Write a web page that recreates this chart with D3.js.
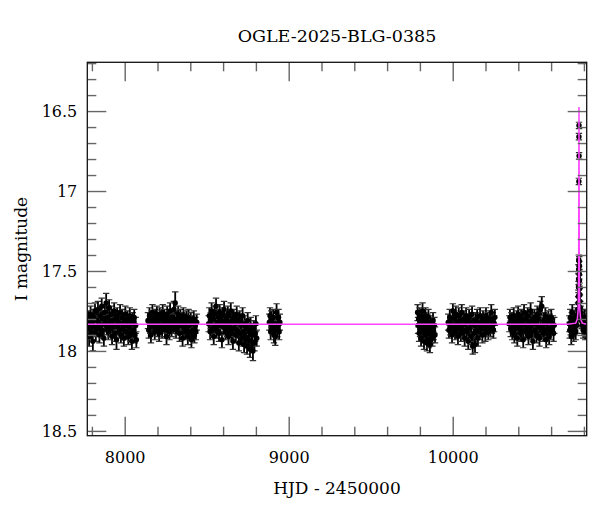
<!DOCTYPE html>
<html>
<head>
<meta charset="utf-8">
<script src="https://cdn.jsdelivr.net/npm/d3@7"></script>
<style>
  body { margin: 0; background: #fff; }
  svg text { font-family: "DejaVu Serif", serif; fill: #000; }
</style>
</head>
<body>
<div id="chart-area"></div>
<script>
// labels
var title = "OGLE-2025-BLG-0385";
var xTitle = "HJD - 2450000";
var yTitle = "I magnitude";

// ticks
var xMajor = [8000, 9000, 10000];
var xMinor = [7800, 8200, 8400, 8600, 8800, 9200, 9400, 9600, 9800, 10200, 10400, 10600, 10800];
var yMajor = [16.5, 17, 17.5, 18, 18.5];
var yMinor = [16.2, 16.3, 16.4, 16.6, 16.7, 16.8, 16.9, 17.1, 17.2, 17.3, 17.4,
              17.6, 17.7, 17.8, 17.9, 18.1, 18.2, 18.3, 18.4];

// photometry [HJD-2450000, I mag, error], one array per season
var season2017 = [[7775,17.86,.05],[7779,17.80,.05],[7783,17.91,.06],[7788,17.83,.05],[7792,17.77,.05],[7797,17.88,.05],[7801,17.82,.05],[7806,17.94,.06],[7810,17.79,.05],[7815,17.85,.05],[7819,17.75,.05],[7824,17.89,.05],[7828,17.81,.05],[7833,17.86,.05],[7837,17.74,.05],[7842,17.83,.05],[7846,17.90,.05],[7851,17.78,.05],[7855,17.84,.05],[7860,17.72,.05],[7864,17.87,.05],[7869,17.80,.05],[7873,17.92,.05],[7878,17.76,.05],[7882,17.83,.05],[7887,17.70,.06],[7891,17.85,.05],[7896,17.79,.05],[7900,17.88,.05],[7905,17.73,.05],[7909,17.82,.05],[7914,17.86,.05],[7918,17.77,.05],[7923,17.91,.05],[7927,17.81,.05],[7932,17.84,.05],[7936,17.75,.05],[7941,17.89,.05],[7945,17.80,.05],[7950,17.93,.06],[7954,17.78,.05],[7959,17.85,.05],[7963,17.82,.05],[7968,17.87,.05],[7972,17.76,.05],[7977,17.90,.05],[7981,17.83,.05],[7986,17.79,.05],[7990,17.86,.05],[7995,17.92,.05],[7999,17.81,.05],[8004,17.77,.05],[8008,17.88,.05],[8013,17.84,.05],[8017,17.80,.05],[8022,17.91,.05],[8026,17.85,.05],[8031,17.78,.05],[8035,17.89,.05],[8040,17.83,.05],[8044,17.94,.05],[8049,17.81,.05],[8053,17.87,.05],[8058,17.79,.05],[8062,17.90,.05],[8067,17.84,.05],[8071,17.93,.05]];
var season2018 = [[8142,17.81,.05],[8147,17.87,.05],[8151,17.78,.05],[8156,17.84,.05],[8160,17.90,.05],[8165,17.80,.05],[8169,17.76,.05],[8174,17.85,.05],[8178,17.82,.05],[8183,17.88,.05],[8187,17.79,.05],[8192,17.83,.05],[8196,17.77,.05],[8201,17.86,.05],[8205,17.81,.05],[8210,17.89,.05],[8214,17.78,.05],[8219,17.84,.05],[8223,17.80,.05],[8228,17.87,.05],[8232,17.76,.05],[8237,17.83,.05],[8241,17.79,.05],[8246,17.86,.05],[8250,17.81,.05],[8255,17.91,.05],[8259,17.77,.05],[8264,17.84,.05],[8268,17.80,.05],[8273,17.88,.05],[8277,17.75,.05],[8282,17.82,.05],[8286,17.86,.05],[8291,17.79,.05],[8295,17.84,.05],[8300,17.74,.05],[8304,17.81,.05],[8308,17.70,.07],[8313,17.87,.05],[8317,17.80,.05],[8322,17.85,.05],[8326,17.77,.05],[8331,17.83,.05],[8335,17.89,.05],[8340,17.79,.05],[8344,17.84,.05],[8349,17.81,.05],[8353,17.92,.05],[8358,17.78,.05],[8362,17.86,.05],[8367,17.82,.05],[8371,17.88,.05],[8376,17.80,.05],[8380,17.85,.05],[8385,17.91,.05],[8389,17.79,.05],[8394,17.84,.05],[8398,17.88,.05],[8403,17.81,.05],[8407,17.93,.05],[8412,17.83,.05],[8416,17.87,.05],[8421,17.80,.05],[8425,17.90,.05],[8430,17.84,.05],[8434,17.88,.05],[8439,17.82,.05]];
var season2019 = [[8512,17.83,.05],[8516,17.78,.05],[8521,17.88,.05],[8525,17.81,.05],[8530,17.75,.05],[8534,17.86,.05],[8539,17.80,.05],[8543,17.91,.05],[8548,17.77,.05],[8552,17.84,.05],[8557,17.72,.05],[8561,17.87,.05],[8566,17.82,.05],[8570,17.79,.05],[8575,17.89,.05],[8579,17.76,.05],[8584,17.84,.05],[8588,17.81,.05],[8593,17.93,.05],[8597,17.78,.05],[8602,17.85,.05],[8606,17.74,.05],[8611,17.83,.05],[8615,17.88,.05],[8620,17.80,.05],[8624,17.86,.05],[8629,17.77,.05],[8633,17.91,.05],[8638,17.82,.05],[8642,17.85,.05],[8647,17.75,.05],[8651,17.88,.05],[8656,17.81,.05],[8660,17.94,.05],[8665,17.79,.05],[8669,17.86,.05],[8674,17.83,.05],[8678,17.90,.05],[8683,17.77,.05],[8687,17.87,.05],[8692,17.82,.05],[8696,17.95,.05],[8701,17.80,.05],[8705,17.89,.05],[8710,17.84,.05],[8714,17.92,.05],[8719,17.78,.05],[8723,17.88,.05],[8728,17.96,.05],[8732,17.83,.05],[8737,17.91,.05],[8741,17.86,.05],[8746,17.97,.05],[8750,17.81,.05],[8755,17.93,.05],[8759,17.88,.05],[8764,17.99,.05],[8768,17.84,.05],[8773,17.94,.05],[8777,17.90,.05],[8782,18.00,.06],[8786,17.86,.05],[8791,17.95,.05],[8795,17.89,.05],[8800,17.83,.05],[8805,17.92,.05]];
var season2020 = [[8882,17.82,.05],[8886,17.78,.05],[8890,17.88,.05],[8894,17.80,.05],[8898,17.84,.05],[8902,17.85,.05],[8906,17.79,.05],[8910,17.90,.05],[8914,17.83,.05],[8918,17.91,.055],[8922,17.87,.05],[8926,17.76,.055],[8930,17.86,.05],[8934,17.84,.05],[8938,17.79,.05],[8942,17.88,.05],[8946,17.82,.05]];
var season2022 = [[9786,17.76,.05],[9789,17.84,.05],[9792,17.80,.05],[9795,17.89,.05],[9798,17.78,.05],[9801,17.86,.05],[9804,17.82,.05],[9807,17.92,.05],[9810,17.79,.05],[9813,17.85,.05],[9816,17.75,.05],[9819,17.88,.05],[9822,17.83,.05],[9825,17.94,.05],[9828,17.81,.05],[9831,17.87,.05],[9834,17.78,.05],[9837,17.90,.05],[9840,17.84,.05],[9843,17.95,.05],[9846,17.82,.05],[9849,17.88,.05],[9852,17.79,.05],[9855,17.93,.05],[9858,17.86,.05],[9861,17.96,.05],[9864,17.83,.05],[9868,17.90,.05],[9872,17.85,.05],[9876,17.92,.05],[9880,17.81,.05],[9884,17.88,.05],[9888,17.84,.05],[9892,17.90,.05]];
var season2023 = [[9973,17.82,.05],[9977,17.87,.05],[9982,17.79,.05],[9986,17.85,.05],[9991,17.83,.05],[9996,17.90,.05],[10001,17.75,.045],[10005,17.84,.05],[10010,17.80,.05],[10014,17.88,.05],[10019,17.77,.05],[10023,17.86,.05],[10028,17.82,.05],[10032,17.91,.05],[10037,17.78,.05],[10041,17.85,.05],[10046,17.81,.05],[10050,17.89,.05],[10055,17.76,.05],[10059,17.84,.05],[10064,17.87,.05],[10068,17.80,.05],[10073,17.92,.05],[10077,17.83,.05],[10082,17.78,.05],[10086,17.88,.05],[10091,17.82,.05],[10095,17.94,.05],[10100,17.79,.05],[10104,17.86,.05],[10109,17.83,.05],[10113,17.91,.05],[10118,17.77,.05],[10122,17.97,.05],[10127,17.84,.05],[10131,17.89,.05],[10136,17.96,.05],[10140,17.81,.05],[10145,17.87,.05],[10149,17.79,.05],[10154,17.92,.05],[10158,17.84,.05],[10163,17.88,.05],[10167,17.78,.05],[10172,17.85,.05],[10176,17.82,.05],[10181,17.90,.05],[10185,17.80,.05],[10190,17.86,.05],[10194,17.83,.05],[10199,17.89,.05],[10203,17.78,.05],[10208,17.85,.05],[10212,17.81,.05],[10217,17.88,.05],[10221,17.83,.05],[10226,17.80,.05],[10230,17.86,.05],[10235,17.76,.05],[10239,17.84,.05],[10244,17.81,.05],[10248,17.87,.05],[10253,17.83,.05],[10257,17.79,.05]];
var season2024 = [[10345,17.83,.05],[10349,17.79,.05],[10354,17.86,.05],[10358,17.81,.05],[10363,17.88,.05],[10367,17.84,.05],[10372,17.78,.05],[10376,17.90,.05],[10381,17.82,.05],[10385,17.86,.05],[10390,17.80,.05],[10394,17.92,.05],[10399,17.77,.05],[10403,17.85,.05],[10408,17.83,.05],[10412,17.89,.05],[10417,17.79,.05],[10421,17.87,.05],[10426,17.81,.05],[10430,17.93,.05],[10435,17.76,.05],[10439,17.84,.05],[10444,17.88,.05],[10448,17.80,.05],[10453,17.86,.05],[10457,17.78,.05],[10462,17.91,.05],[10466,17.82,.05],[10471,17.85,.05],[10475,17.75,.05],[10480,17.88,.05],[10484,17.81,.05],[10489,17.94,.05],[10493,17.83,.05],[10498,17.79,.05],[10502,17.87,.05],[10507,17.82,.05],[10511,17.90,.05],[10516,17.77,.05],[10520,17.85,.05],[10525,17.80,.05],[10529,17.92,.05],[10534,17.74,.05],[10538,17.86,.05],[10543,17.72,.06],[10547,17.84,.05],[10552,17.89,.05],[10556,17.81,.05],[10561,17.87,.05],[10565,17.78,.05],[10570,17.93,.05],[10574,17.83,.05],[10579,17.86,.05],[10583,17.80,.05],[10588,17.91,.05],[10592,17.82,.05],[10597,17.88,.05],[10601,17.79,.05],[10606,17.85,.05],[10610,17.83,.05],[10615,17.89,.05],[10619,17.84,.05]];
var season2025 = [[10711,17.83,.05],[10714,17.87,.05],[10717,17.79,.05],[10720,17.85,.05],[10723,17.91,.05],[10726,17.81,.05],[10729,17.76,.05],[10732,17.86,.05],[10735,17.83,.05],[10738,17.89,.05],[10741,17.80,.05],[10744,17.85,.05],[10747,17.82,.05],[10750,17.88,.05],[10753,17.78,.05],[10756,17.84,.05],[10759,17.80,.05],[10762,17.78,.04],[10764,17.74,.04],[10765,17.70,.04],[10766,17.66,.04],[10767,17.60,.035],[10767.5,17.55,.035],[10768,17.49,.03],[10768.5,17.43,.03],[10769.3,16.94,.02],[10769.7,16.66,.02],[10770.1,16.59,.02],[10770.6,16.78,.02],[10771.5,17.44,.03],[10772,17.47,.03],[10772.5,17.52,.03],[10773,17.56,.035],[10774,17.61,.035],[10775,17.65,.04],[10776,17.69,.04],[10778,17.73,.04],[10780,17.76,.04],[10783,17.79,.05],[10786,17.81,.05],[10790,17.84,.05],[10793,17.80,.05],[10796,17.87,.05],[10799,17.82,.05],[10802,17.85,.05],[10805,17.79,.05],[10808,17.88,.05],[10811,17.83,.05],[10814,17.86,.05]];

// fitted model [HJD-2450000, I mag]
var model = [[7772,17.833],[10700,17.833],[10750,17.826],[10760,17.80],[10765,17.74],[10767,17.62],[10768,17.45],[10769,17.0],[10769.7,16.6],[10770,16.475],[10770.3,16.6],[10771,17.0],[10772,17.45],[10773,17.62],[10775,17.74],[10780,17.80],[10790,17.826],[10817,17.833]];

var width = 600, height = 512;
var plotL = 87.3, plotR = 586.7, plotT = 62.3, plotB = 435.7;

var svg = d3.select("#chart-area")
  .append("svg")
    .attr("width", width)
    .attr("height", height);

var x = d3.scaleLinear().domain([7772, 10817]).range([plotL, plotR]);
var y = d3.scaleLinear().domain([16.195, 18.53]).range([plotT, plotB]);

svg.append("clipPath").attr("id", "plot")
  .append("rect")
    .attr("x", plotL).attr("y", plotT)
    .attr("width", plotR - plotL).attr("height", plotB - plotT);

var plot = svg.append("g").attr("clip-path", "url(#plot)");

var allPoints = [].concat(season2017, season2018, season2019, season2020,
                          season2022, season2023, season2024, season2025);

// error bars
var bars = plot.selectAll("g.pt")
  .data(allPoints)
  .enter()
  .append("g")
    .attr("class", "pt");

bars.append("line")
  .attr("x1", d => x(d[0])).attr("x2", d => x(d[0]))
  .attr("y1", d => y(d[1] - d[2])).attr("y2", d => y(d[1] + d[2]))
  .attr("stroke", "#000").attr("stroke-width", 1.8);

bars.append("line")
  .attr("x1", d => x(d[0]) - 3.2).attr("x2", d => x(d[0]) + 3.2)
  .attr("y1", d => y(d[1] - d[2])).attr("y2", d => y(d[1] - d[2]))
  .attr("stroke", "#333").attr("stroke-width", 1.2);

bars.append("line")
  .attr("x1", d => x(d[0]) - 3.2).attr("x2", d => x(d[0]) + 3.2)
  .attr("y1", d => y(d[1] + d[2])).attr("y2", d => y(d[1] + d[2]))
  .attr("stroke", "#333").attr("stroke-width", 1.2);

plot.selectAll("circle")
  .data(allPoints)
  .enter()
  .append("circle")
    .attr("cx", d => x(d[0]))
    .attr("cy", d => y(d[1]))
    .attr("r", 2.7)
    .attr("fill", "#000");

// model curve
plot.append("path")
  .datum(model)
  .attr("d", d3.line().x(d => x(d[0])).y(d => y(d[1])))
  .attr("fill", "none")
  .attr("stroke", "#ff44ff")
  .attr("stroke-width", 1.5);

// axes with inward ticks
function styleAxis(g) {
  g.select(".domain").remove();
  g.selectAll(".tick line").attr("stroke", "#666").attr("stroke-width", 1.4);
  g.selectAll("text").style("font-size", "16px").attr("fill", "#000");
}

svg.append("g").attr("transform", "translate(0," + plotB + ")")
  .call(d3.axisBottom(x).tickValues(xMajor).tickSize(-19).tickPadding(16).tickFormat(d3.format("d")))
  .call(styleAxis);
svg.append("g").attr("transform", "translate(0," + plotB + ")")
  .call(d3.axisBottom(x).tickValues(xMinor).tickSize(-9).tickFormat(""))
  .call(styleAxis);
svg.append("g").attr("transform", "translate(0," + plotT + ")")
  .call(d3.axisTop(x).tickValues(xMajor).tickSize(-19).tickFormat(""))
  .call(styleAxis);
svg.append("g").attr("transform", "translate(0," + plotT + ")")
  .call(d3.axisTop(x).tickValues(xMinor).tickSize(-9).tickFormat(""))
  .call(styleAxis);

svg.append("g").attr("transform", "translate(" + plotL + ",0)")
  .call(d3.axisLeft(y).tickValues(yMajor).tickSize(-19).tickPadding(10).tickFormat(d => d))
  .call(styleAxis);
svg.append("g").attr("transform", "translate(" + plotL + ",0)")
  .call(d3.axisLeft(y).tickValues(yMinor).tickSize(-9).tickFormat(""))
  .call(styleAxis);
svg.append("g").attr("transform", "translate(" + plotR + ",0)")
  .call(d3.axisRight(y).tickValues(yMajor).tickSize(-19).tickFormat(""))
  .call(styleAxis);
svg.append("g").attr("transform", "translate(" + plotR + ",0)")
  .call(d3.axisRight(y).tickValues(yMinor).tickSize(-9).tickFormat(""))
  .call(styleAxis);

// frame
svg.append("rect")
  .attr("x", plotL).attr("y", plotT)
  .attr("width", plotR - plotL).attr("height", plotB - plotT)
  .attr("fill", "none")
  .attr("stroke", "#111")
  .attr("stroke-width", 1.3);

// titles
svg.append("text")
  .attr("x", (plotL + plotR) / 2).attr("y", 42)
  .attr("text-anchor", "middle")
  .style("font-size", "17.5px")
  .text(title);

svg.append("text")
  .attr("x", (plotL + plotR) / 2).attr("y", 494)
  .attr("text-anchor", "middle")
  .style("font-size", "17px")
  .text(xTitle);

svg.append("text")
  .attr("transform", "translate(27," + ((plotT + plotB) / 2) + ") rotate(-90)")
  .attr("text-anchor", "middle")
  .style("font-size", "17px")
  .text(yTitle);
</script>
</body>
</html>
